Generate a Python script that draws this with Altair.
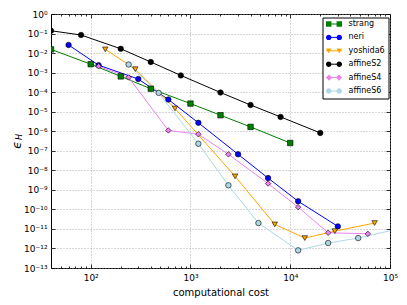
import altair as alt
import pandas as pd

series = ["strang", "neri", "yoshida6", "affineS2", "affineS4", "affineS6"]
colors = ["#008000", "#0000ff", "#ffa500", "#000000", "#ee82ee", "#add8e6"]
shapes = ["square", "circle", "triangle-down", "circle", "diamond", "circle"]
# legend glyphs: the same marker drawn at both ends of the legend line
legend_shapes = [
    "M-1,-0.34H-0.32V0.34H-1Z M0.32,-0.34H1V0.34H0.32Z",
    "M-0.66,-0.34A0.34,0.34 0 1,1 -0.66,0.34A0.34,0.34 0 1,1 -0.66,-0.34Z "
    "M0.66,-0.34A0.34,0.34 0 1,1 0.66,0.34A0.34,0.34 0 1,1 0.66,-0.34Z",
    "M-1,-0.3L-0.32,-0.3L-0.66,0.32Z M0.32,-0.3L1,-0.3L0.66,0.32Z",
    "M-0.66,-0.34A0.34,0.34 0 1,1 -0.66,0.34A0.34,0.34 0 1,1 -0.66,-0.34Z "
    "M0.66,-0.34A0.34,0.34 0 1,1 0.66,0.34A0.34,0.34 0 1,1 0.66,-0.34Z",
    "M-0.62,-0.4L-0.24,0L-0.62,0.4L-1,0Z M0.62,-0.4L1,0L0.62,0.4L0.24,0Z",
    "M-0.66,-0.34A0.34,0.34 0 1,1 -0.66,0.34A0.34,0.34 0 1,1 -0.66,-0.34Z "
    "M0.66,-0.34A0.34,0.34 0 1,1 0.66,0.34A0.34,0.34 0 1,1 0.66,-0.34Z",
]

strang_x = [40, 100, 200, 400, 1000, 2000, 4000, 10000]
strang_y = [1.55e-2, 2.7e-3, 6.4e-4, 1.5e-4, 2.6e-5, 6.6e-6, 1.66e-6, 2.5e-7]
neri_x = [60, 120, 300, 600, 1200, 3000, 6000, 12000, 30000]
neri_y = [2.6e-2, 2.4e-3, 4.7e-4, 4.2e-5, 2.7e-6, 6.6e-8, 4e-9, 2.6e-10, 1.35e-11]
yoshida6_x = [140, 280, 700, 2800, 7000, 14000, 28000, 70000]
yoshida6_y = [1.55e-2, 1.5e-3, 1.46e-5, 4.9e-9, 1.7e-11, 3.4e-12, 7.7e-12, 2e-11]
affineS2_x = [40, 80, 200, 400, 800, 2000, 4000, 8000, 20000]
affineS2_y = [0.139, 0.084, 0.0166, 3.5e-3, 7.2e-4, 9.6e-5, 2.2e-5, 5.4e-6, 8.2e-7]
affineS4_x = [120, 240, 600, 1200, 2400, 6000, 12000, 24000, 60000]
affineS4_y = [2.1e-3, 5.7e-4, 1.1e-6, 7e-7, 6.6e-8, 2.1e-9, 1.3e-10, 6.4e-12, 5.6e-12]
affineS6_x = [240, 480, 1200, 2400, 4800, 12000, 24000, 48000, 120000]
affineS6_y = [2.6e-3, 9.2e-5, 2.3e-7, 1.7e-9, 2e-11, 8e-13, 1.9e-12, 3.4e-12, 1e-11]

x_major = [100, 1000, 10000, 100000]
x_minor = [m * d for d in [10, 100, 1000, 10000] for m in range(2, 10) if m * d >= 40]
y_major = [10.0 ** (-k) for k in range(0, 14)]

xs = [strang_x, neri_x, yoshida6_x, affineS2_x, affineS4_x, affineS6_x]
ys = [strang_y, neri_y, yoshida6_y, affineS2_y, affineS4_y, affineS6_y]
rows = []
for name, xv, yv in zip(series, xs, ys):
    for a, b in zip(xv, yv):
        rows.append({"series": name, "series_l": name, "x": a, "y": b})
df = pd.DataFrame(rows)

sup = {"-": "⁻", "0": "⁰", "1": "¹", "2": "²", "3": "³", "4": "⁴",
       "5": "⁵", "6": "⁶", "7": "⁷", "8": "⁸", "9": "⁹"}
expr = "('' + round(log(datum.value) / LN10))"
for k, v in sup.items():
    expr = f"replace({expr}, regexp('{k}', 'g'), '{v}')"
label_expr = "'10' + " + expr

FONT = "DejaVu Sans"
xscale = alt.Scale(type="log", domain=[40, 100000], nice=False)
yscale = alt.Scale(type="log", domain=[1e-13, 1], nice=False)

xaxis_main = alt.Axis(values=x_major, labelExpr=label_expr, grid=True, gridDash=[1, 2],
                      gridColor="#999", gridWidth=0.8, ticks=False, domain=False,
                      labelPadding=5, labelFontSize=9, labelFont=FONT, labelColor="black",
                      labelFlush=False, labelOverlap=False, title="computational cost",
                      titleFont=FONT, titleFontSize=10, titleFontWeight="normal",
                      titleColor="black", titlePadding=5)
yaxis_main = alt.Axis(values=y_major, labelExpr=label_expr, grid=True, gridDash=[1, 2],
                      gridColor="#999", gridWidth=0.8, ticks=False, domain=False,
                      labelPadding=4, labelFontSize=9, labelFont=FONT, labelColor="black",
                      labelFlush=False, labelOverlap=False, title=None)

LX, LY = 271.5, 3.5
legend_common = dict(orient="none", legendX=LX, legendY=LY, title=None, padding=3,
                     labelFontSize=8, labelFont=FONT, labelOffset=6, clipHeight=7,
                     rowPadding=4.4, symbolSize=256)
legend_lines = alt.Legend(strokeColor="black", fillColor="white", labelColor="black",
                          symbolType="stroke", symbolStrokeWidth=1, zindex=0,
                          **legend_common)
legend_marks = alt.Legend(labelOpacity=0, symbolOpacity=1, symbolStrokeColor="black",
                          symbolStrokeWidth=0.6, zindex=1, **legend_common)

color_scale = alt.Scale(domain=series, range=colors)

lines = alt.Chart(df).mark_line(strokeWidth=1, clip=True).encode(
    x=alt.X("x:Q", scale=xscale, axis=xaxis_main),
    y=alt.Y("y:Q", scale=yscale, axis=yaxis_main),
    color=alt.Color("series:N", scale=color_scale, legend=legend_lines),
)
points = alt.Chart(df).mark_point(filled=True, size=30, stroke="black", strokeWidth=0.6,
                                  opacity=1, clip=True).encode(
    x=alt.X("x:Q", scale=xscale, axis=xaxis_main),
    y=alt.Y("y:Q", scale=yscale, axis=yaxis_main),
    fill=alt.Fill("series:N", scale=color_scale, legend=None),
    shape=alt.Shape("series:N", scale=alt.Scale(domain=series, range=shapes), legend=None),
)
legend_glyphs = alt.Chart(df).mark_point(filled=True, opacity=0, clip=True).encode(
    x=alt.X("x:Q", scale=xscale, axis=xaxis_main),
    y=alt.Y("y:Q", scale=yscale, axis=yaxis_main),
    fill=alt.Fill("series_l:N", scale=color_scale, legend=legend_marks),
    shape=alt.Shape("series_l:N", scale=alt.Scale(domain=series, range=legend_shapes),
                    legend=legend_marks),
)
eps = alt.Chart(pd.DataFrame({"t": ["ϵ"]})).mark_text(
    font=FONT, fontSize=12, fontStyle="italic", angle=270, color="black"
).encode(x=alt.value(-34), y=alt.value(131), text="t:N")
sub = alt.Chart(pd.DataFrame({"t": ["H"]})).mark_text(
    font=FONT, fontSize=8, fontStyle="italic", angle=270, color="black"
).encode(x=alt.value(-31), y=alt.value(123), text="t:N")

main = alt.layer(lines, points, legend_glyphs, eps, sub).resolve_scale(
    fill="independent", shape="independent"
).resolve_legend(fill="independent", shape="independent")


def tick_layer(xvals, xorient, size, yvals=None, yorient=None):
    xa = alt.Axis(values=xvals, orient=xorient, labels=False, grid=False, domain=False,
                  ticks=True, tickSize=size, offset=-size, tickColor="black",
                  tickWidth=0.8, title=None)
    if yvals is not None:
        ya = alt.Axis(values=yvals, orient=yorient, labels=False, grid=False, domain=False,
                      ticks=True, tickSize=size, offset=-size, tickColor="black",
                      tickWidth=0.8, title=None)
    else:
        ya = None
    return alt.Chart(df).mark_point(opacity=0).encode(
        x=alt.X("x:Q", scale=xscale, axis=xa),
        y=alt.Y("y:Q", scale=yscale, axis=ya),
    )


t1 = tick_layer(x_major, "bottom", 4, y_major, "left")
t2 = tick_layer(x_major, "top", 4, y_major, "right")
t3 = tick_layer(x_minor, "bottom", 2)
t4 = tick_layer(x_minor, "top", 2)

chart = alt.layer(main, t1, t2, t3, t4).resolve_scale(
    x="independent", y="independent"
).properties(
    width=339, height=254,
    autosize=alt.AutoSizeParams(type="none"),
    padding={"left": 43, "top": 6, "right": 9, "bottom": 37},
).configure_view(stroke="black", strokeWidth=1)

chart.save("out.html", embed_options={"renderer": "svg", "actions": False})
